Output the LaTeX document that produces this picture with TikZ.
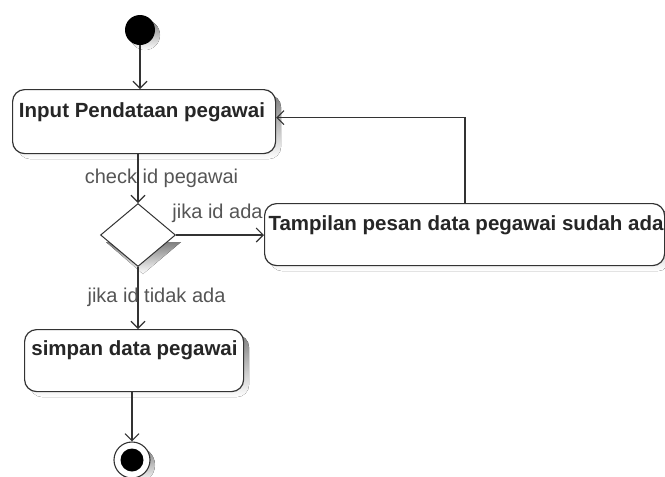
\documentclass[tikz,border=0pt]{standalone}
\usepackage{fontspec}
\setmainfont{Liberation Sans}
\usetikzlibrary{shapes.geometric,arrows.meta,calc}
\definecolor{linec}{HTML}{333333}
\definecolor{labc}{HTML}{555555}
\definecolor{shade}{HTML}{EEEEEE}
\tikzset{
  x=1pt, y=-1pt,
  act/.style={draw=linec, line width=1.2pt, rounded corners=12pt, fill=white,
    inner sep=0pt, anchor=north west},
  acttext/.style={font=\fontsize{20.5}{24}\selectfont\bfseries, text=black!85, anchor=base},
  flow/.style={draw=linec, line width=1.1pt, -{Straight Barb[length=7pt,width=14pt,line width=1.1pt]}},
  lab/.style={font=\fontsize{20}{24}\selectfont, text=labc, anchor=base},
  decision/.style={diamond, draw=linec, line width=1pt, fill=white, inner sep=0pt,
    minimum width=75pt, minimum height=63pt},
}
\begin{document}
\begin{tikzpicture}
\useasboundingbox (0,0) rectangle (665,477);

% soft drop shadows
\fill[shade, rounded corners=12pt] (18,95) rectangle (281,159);
\fill[shade, rounded corners=12pt] (270,209) rectangle (670,271);
\fill[shade, rounded corners=12pt] (30,335) rectangle (249,397);
\fill[shade] (145,35) circle (15);
\fill[shade] (137,465) circle (18);
\fill[shade] (143,242) -- (181,242) -- (143,274) -- (106,242) -- cycle;

% initial node
\node[circle, fill=black, minimum size=30pt, inner sep=0pt] (start) at (140,30) {};

% actions
\node[act, minimum width=263pt, minimum height=64pt] (b1) at (12,89) {};
\node[acttext] (t1) at (142,117) {Input Pendataan pegawai};

\node[decision] (d) at (138,235) {};

\node[act, minimum width=400pt, minimum height=62pt] (b2) at (264,203) {};
\node[acttext] (t2) at (466,230) {Tampilan pesan data pegawai sudah ada};

\node[act, minimum width=219pt, minimum height=62pt] (b3) at (24,329) {};
\node[acttext] (t3) at (134.5,355) {simpan data pegawai};

% final node
\node[circle, draw=linec, line width=1.1pt, fill=white, minimum size=36pt, inner sep=0pt] (end) at (132,460) {};
\node[circle, fill=black, minimum size=23pt, inner sep=0pt] (endin) at (end.center) {};

% control flow
\coordinate (loopx) at (465,0);
\draw[flow] (start.south) -- (b1.north -| start.south);
\draw[flow] (b1.south -| d.north) -- (d.north);
\draw[flow] (d.east) -- (d.east -| b2.west);
\draw[flow] (d.south) -- (b3.north -| d.south);
\draw[flow] (b3.south -| end.north) -- (end.north);
\draw[flow] (b2.north -| loopx) |- ([yshift=4pt]b1.east);

% guard labels
\node[lab] (l1) at (161.5,183) {check id pegawai};
\node[lab] (l2) at (217.5,218) {jika id ada};
\node[lab] (l3) at (156.5,302) {jika id tidak ada};
\end{tikzpicture}
\end{document}
